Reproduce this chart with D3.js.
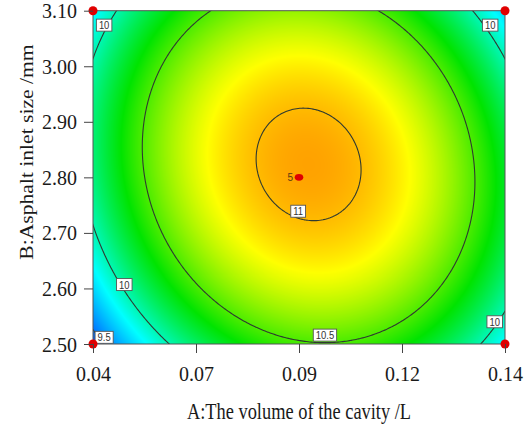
<!DOCTYPE html>
<html><head><meta charset="utf-8">
<script src="https://cdn.jsdelivr.net/npm/d3@7"></script>
<style>html,body{margin:0;padding:0;background:#fff;} svg{display:block;}</style>
</head><body><svg id="chart" width="525" height="425"></svg>
<script>
// ---------- data ----------
const rangeA = [0.04, 0.14];
const rangeB = [2.50, 3.10];
const xTickValues = [0.04, 0.065, 0.09, 0.115, 0.14];
const xTickLabels = ["0.04", "0.07", "0.09", "0.12", "0.14"];
const yTickValues = [2.50, 2.60, 2.70, 2.80, 2.90, 3.00, 3.10];
const yTickLabels = ["2.50", "2.60", "2.70", "2.80", "2.90", "3.00", "3.10"];
// fitted quadratic model in coded units (A, B in -1..1)
const modelTerms = ["Intercept", "A", "B", "AB", "A^2", "B^2"];
const modelCoefficients = [11.05, 0.09, 0.082, -0.127, -0.86, -0.49];
const contourLevels = [9.5, 10, 10.5, 11];
const contourLabelText = ["10", "10", "10", "9.5", "10.5", "11", "10"];
const contourLabelA = [0.0427, 0.1364, 0.0476, 0.0427, 0.0963, 0.0898, 0.1375];
const contourLabelB = [3.074, 3.074, 2.607, 2.512, 2.516, 2.739, 2.540];
const designPointA = [0.04, 0.04, 0.14, 0.14, 0.09];
const designPointB = [2.50, 3.10, 3.10, 2.50, 2.80];
const designPointRuns = [1, 1, 1, 1, 5];
const colorStopValues = [9.35, 9.85, 10.35, 10.85, 11.06];
const colorStopColors = ["#0038ff", "#00ffff", "#00e400", "#ffff00", "#ffa000"];
const xTitle = "A:The volume of the cavity /L";
const yTitle = "B:Asphalt inlet size /mm";

// ---------- model ----------
const cA = (rangeA[0] + rangeA[1]) / 2, hA = (rangeA[1] - rangeA[0]) / 2;
const cB = (rangeB[0] + rangeB[1]) / 2, hB = (rangeB[1] - rangeB[0]) / 2;
function response(A, B) {
  const a = (A - cA) / hA, b = (B - cB) / hB;
  const t = [1, a, b, a * b, a * a, b * b];
  return d3.sum(t, (v, i) => v * modelCoefficients[i]);
}

// ---------- layout ----------
const W = 525, H = 425;
const m = {left: 93, right: 20, top: 10.7, bottom: 81};
const pw = W - m.left - m.right, ph = H - m.top - m.bottom;
const svg = d3.select("#chart");
const x = d3.scaleLinear().domain(rangeA).range([m.left, m.left + pw]);
const y = d3.scaleLinear().domain(rangeB).range([m.top + ph, m.top]);
const color = d3.scaleLinear().domain(colorStopValues).range(colorStopColors).clamp(true);

// ---------- heat map ----------
const cw = Math.round(pw), ch = Math.round(ph);
const canvas = document.createElement("canvas");
canvas.width = cw; canvas.height = ch;
const ctx = canvas.getContext("2d");
const img = ctx.createImageData(cw, ch);
for (let j = 0; j < ch; j++) {
  const B = y.invert(m.top + (j + 0.5) * ph / ch);
  for (let i = 0; i < cw; i++) {
    const A = x.invert(m.left + (i + 0.5) * pw / cw);
    const c = d3.rgb(color(response(A, B)));
    const k = 4 * (j * cw + i);
    img.data[k] = c.r; img.data[k + 1] = c.g; img.data[k + 2] = c.b; img.data[k + 3] = 255;
  }
}
ctx.putImageData(img, 0, 0);
svg.append("image").attr("x", m.left).attr("y", m.top).attr("width", pw).attr("height", ph)
  .attr("preserveAspectRatio", "none").attr("href", canvas.toDataURL());

// ---------- contours ----------
svg.append("clipPath").attr("id", "plotclip").append("rect")
  .attr("x", m.left).attr("y", m.top).attr("width", pw).attr("height", ph);
const nx = 300, ny = 240;
const gA0 = rangeA[0] - 0.01, gA1 = rangeA[1] + 0.01;
const gB0 = rangeB[0] - 0.06, gB1 = rangeB[1] + 0.06;
const sA = (gA1 - gA0) / (nx - 1), sB = (gB1 - gB0) / (ny - 1);
const grid = new Array(nx * ny);
for (let j = 0; j < ny; j++) for (let i = 0; i < nx; i++)
  grid[j * nx + i] = response(gA0 + i * sA, gB0 + j * sB);
const contours = d3.contours().size([nx, ny]).thresholds(contourLevels)(grid);
const proj = d3.geoTransform({
  point: function(px, py) {
    this.stream.point(x(gA0 + (px - 0.5) * sA), y(gB0 + (py - 0.5) * sB));
  }
});
svg.append("g").attr("clip-path", "url(#plotclip)")
  .selectAll("path").data(contours).join("path")
  .attr("d", d3.geoPath(proj))
  .attr("fill", "none").attr("stroke", "#2f3a30").attr("stroke-width", 1.1);

// frame
svg.append("rect").attr("x", m.left).attr("y", m.top).attr("width", pw).attr("height", ph)
  .attr("fill", "none").attr("stroke", "#555").attr("stroke-width", 1);

// ---------- contour labels ----------
const lg = svg.append("g").selectAll("g").data(contourLabelText).join("g")
  .attr("transform", (d, i) => `translate(${x(contourLabelA[i])},${y(contourLabelB[i])})`);
lg.each(function(d) {
  const g = d3.select(this);
  const r = g.append("rect");
  const t = g.append("text").text(d).attr("text-anchor", "middle").attr("dy", "0.36em")
    .attr("font-family", "Liberation Sans, Arial, sans-serif").attr("font-size", 10.5)
    .attr("fill", "#333").attr("transform", "scale(0.9,1.05)");
  const w = t.node().getComputedTextLength() * 0.9 + 5;
  r.attr("x", -w / 2).attr("y", -6).attr("width", w).attr("height", 12)
    .attr("fill", "#fff").attr("stroke", "#555").attr("stroke-width", 0.9);
});

// ---------- design points ----------
const dp = svg.append("g");
designPointA.forEach((a, i) => {
  if (designPointRuns[i] > 1) {
    dp.append("ellipse").attr("cx", x(a)).attr("cy", y(designPointB[i])).attr("rx", 4.3).attr("ry", 3.4).attr("fill", "#e00000");
    dp.append("text").attr("x", x(a) - 6).attr("y", y(designPointB[i]) + 3.5).attr("text-anchor", "end")
      .attr("font-family", "Liberation Sans, Arial, sans-serif").attr("font-size", 10).attr("fill", "#5a3b10")
      .text(designPointRuns[i]);
  } else {
    dp.append("circle").attr("cx", x(a)).attr("cy", y(designPointB[i])).attr("r", 4.5).attr("fill", "#e00000");
  }
});

// ---------- axes ----------
const font = "Liberation Serif, Times New Roman, serif";
const xAxis = svg.append("g").attr("transform", `translate(0,${m.top + ph})`)
  .call(d3.axisBottom(x).tickValues(xTickValues).tickFormat((d, i) => xTickLabels[i]).tickSize(9).tickPadding(10));
const yAxis = svg.append("g").attr("transform", `translate(${m.left},0)`)
  .call(d3.axisLeft(y).tickValues(yTickValues).tickFormat((d, i) => yTickLabels[i]).tickSize(9).tickPadding(7));
[xAxis, yAxis].forEach(ax => {
  ax.select(".domain").remove();
  ax.selectAll(".tick line").attr("stroke", "#444");
  ax.selectAll(".tick text").attr("font-family", font).attr("font-size", 20).attr("fill", "#1a1a1a")
    .attr("transform", "scale(1,1.1)");
});

// titles
svg.append("g").attr("transform", `translate(${m.left + pw / 2},${419})`)
  .append("text").attr("transform", "scale(1,1.2)").attr("text-anchor", "middle")
  .attr("font-family", font).attr("font-size", 18.4).attr("fill", "#1a1a1a").text(xTitle);
svg.append("g").attr("transform", `translate(33,${152}) rotate(-90)`)
  .append("text").attr("transform", "scale(1.2,1)").attr("text-anchor", "middle")
  .attr("font-family", font).attr("font-size", 18).attr("fill", "#1a1a1a").text(yTitle);
</script></body></html>
